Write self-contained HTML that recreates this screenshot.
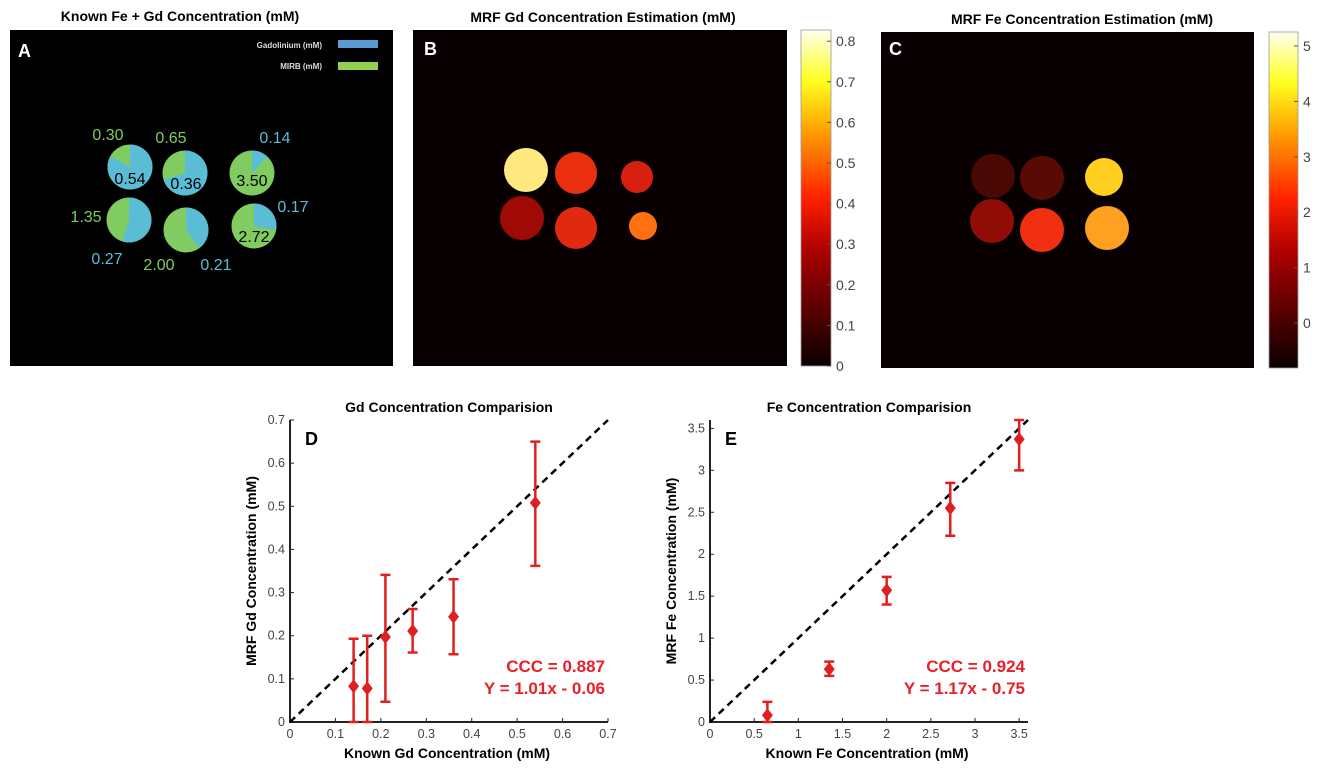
<!DOCTYPE html>
<html><head><meta charset="utf-8"><style>
body{margin:0;background:#fff;}
svg{display:block;font-family:"Liberation Sans",sans-serif;}
</style></head><body>
<svg id="root" width="1324" height="768" viewBox="0 0 1324 768">
<defs>
<linearGradient id="hot" x1="0" y1="1" x2="0" y2="0">
<stop offset="0" stop-color="#0a0000"/><stop offset="0.35" stop-color="#b00000"/><stop offset="0.5" stop-color="#ff2000"/><stop offset="0.7" stop-color="#ffa000"/><stop offset="0.85" stop-color="#ffff20"/><stop offset="1" stop-color="#fffff0"/>
</linearGradient>
</defs>
<text x="180" y="21" text-anchor="middle" font-size="14" font-weight="bold">Known Fe + Gd Concentration (mM)</text>
<rect x="10" y="30" width="383" height="336" fill="#000"/>
<text x="18" y="57" fill="#fff" font-size="18" font-weight="bold">A</text>
<text x="322" y="48" fill="#ddd" font-size="8" font-weight="bold" text-anchor="end">Gadolinium (mM)</text>
<rect x="338" y="40" width="40" height="8" fill="#5b9bd5"/>
<text x="322" y="69" fill="#ddd" font-size="8" font-weight="bold" text-anchor="end">MIRB (mM)</text>
<rect x="338" y="62" width="40" height="8" fill="#92d050"/>
<g id="pies"></g>
<text x="603" y="22" text-anchor="middle" font-size="14" font-weight="bold">MRF Gd Concentration Estimation (mM)</text>
<rect x="413" y="30" width="374" height="336" fill="#080000"/>
<text x="424" y="55" fill="#fff" font-size="18" font-weight="bold">B</text>
<g id="blobsB"></g>
<rect x="801" y="30" width="30" height="336" fill="url(#hot)" stroke="#999" stroke-width="0.8"/>
<g id="cbB"></g>
<text x="1082" y="24" text-anchor="middle" font-size="14" font-weight="bold">MRF Fe Concentration Estimation (mM)</text>
<rect x="881" y="32" width="373" height="336" fill="#080000"/>
<text x="889" y="55" fill="#fff" font-size="18" font-weight="bold">C</text>
<g id="blobsC"></g>
<rect x="1269" y="32" width="29" height="336" fill="url(#hot)" stroke="#999" stroke-width="0.8"/>
<g id="cbC"></g>
<g id="chartD"></g>
<g id="chartE"></g>
</svg>
<script>
const NS="http://www.w3.org/2000/svg";
function mk(parent,tag,attrs,text){const e=document.createElementNS(NS,tag);for(const k in attrs)e.setAttribute(k,attrs[k]);if(text!==undefined)e.textContent=text;parent.appendChild(e);return e;}

const pieGd=[0.54,0.36,0.14,0.27,0.21,0.17];
const pieFe=[0.30,0.65,3.50,1.35,2.00,2.72];
const pieGreenFrac=[0.17,0.30,0.88,0.45,0.60,0.72];
const pieCx=[130,185,252,129,186,254];
const pieCy=[167,173,173,220,230,226];
const pies=document.getElementById('pies');
function arcPath(cx,cy,r,a0,a1){const x0=cx+r*Math.sin(a0),y0=cy-r*Math.cos(a0),x1=cx+r*Math.sin(a1),y1=cy-r*Math.cos(a1);const large=(a1-a0)>Math.PI?1:0;return `M${cx},${cy} L${x0},${y0} A${r},${r} 0 ${large} 1 ${x1},${y1} Z`;}
for(let i=0;i<6;i++){
  const r=22.5,g=pieGreenFrac[i],b=1-g;
  const c=mk(pies,'circle',{cx:pieCx[i],cy:pieCy[i],r:r,fill:'#80cc60'});
  
  
  const p=mk(pies,'path',{d:arcPath(pieCx[i],pieCy[i],r,0,b*2*Math.PI),fill:'#5bbcd6'});
  
  
}
const lblText=['0.30','0.54','0.65','0.36','0.14','3.50','1.35','0.27','2.00','0.21','0.17','2.72'];
const lblX=[108,130,171,186,275,252,86,107,159,216,293,254];
const lblY=[140,184,143,189,143,186,222,264,270,270,212,242];
const lblC=['#80cc60','#000','#80cc60','#000','#5bbcd6','#000','#80cc60','#5bbcd6','#80cc60','#5bbcd6','#5bbcd6','#000'];
for(let i=0;i<lblText.length;i++){
  const t=mk(pies,'text',{x:lblX[i],y:lblY[i],'text-anchor':'middle','font-size':16,fill:lblC[i]},lblText[i]);
  
  
}

const bX=[526,576,637,522,576,643], bY=[170,173,177,218,228,226], bR=[22,21,16,22,21,14];
const bCol=['#ffe880','#e83010','#d82010','#a00a05','#e02a10','#ff7010'];
const cX=[993,1042,1104,992,1042,1107], cY=[176,178,177,221,230,228], cR=[22,22,19,22,22,22];
const cCol=['#4a0804','#5a0a05','#ffd020','#900c06','#f03010','#ffa020'];
function blobs(g,X,Y,R,C,name){for(let i=0;i<X.length;i++){const e=mk(document.getElementById(g),'circle',{cx:X[i],cy:Y[i],r:R[i],fill:C[i]});
  
  }}
blobs('blobsB',bX,bY,bR,bCol,'gd-phantom');
blobs('blobsC',cX,cY,cR,cCol,'fe-phantom');

const cbBTicks=['0','0.1','0.2','0.3','0.4','0.5','0.6','0.7','0.8'];
const cbCTicks=['0','1','2','3','4','5'];
function cbar(g,ticks,x,y0,step,name){const el=document.getElementById(g);ticks.forEach((t,i)=>{const y=y0-i*step;
  mk(el,'line',{x1:x-4,y1:y,x2:x,y2:y,stroke:'#555','stroke-width':1});
  const e=mk(el,'text',{x:x+5,y:y+5,'font-size':14,fill:'#444'},t);
  
  });}
cbar('cbB',cbBTicks,831,366,40.6,'colorbar-b-tick');
cbar('cbC',cbCTicks,1298,323,55.4,'colorbar-c-tick');

const dX=[0.14,0.17,0.21,0.27,0.36,0.54];
const dY=[0.083,0.078,0.197,0.211,0.244,0.508];
const dLo=[0,0,0.047,0.161,0.157,0.362];
const dHi=[0.193,0.200,0.341,0.262,0.331,0.650];
const dTicks=['0','0.1','0.2','0.3','0.4','0.5','0.6','0.7'];
const dTickVals=[0,0.1,0.2,0.3,0.4,0.5,0.6,0.7];
const eX=[0.65,1.35,2.0,2.72,3.5];
const eY=[0.08,0.63,1.57,2.55,3.37];
const eLo=[0,0.55,1.40,2.22,3.00];
const eHi=[0.24,0.72,1.73,2.85,3.60];
const eTicks=['0','0.5','1','1.5','2','2.5','3','3.5'];
const eTickVals=[0,0.5,1,1.5,2,2.5,3,3.5];

function chart(gid,o){
  const g=document.getElementById(gid);
  const sx=v=>o.x0+(v/o.xmax)*(o.x1-o.x0);
  const sy=v=>o.y0-(v/o.ymax)*(o.y0-o.y1);
  const t=mk(g,'text',{x:(o.x0+o.x1)/2,y:o.y1-8,'text-anchor':'middle','font-size':14,'font-weight':'bold'},o.title);
  
  
  const l=mk(g,'text',{x:o.x0+15,y:o.y1+25,'font-size':18,'font-weight':'bold'},o.letter);
  
  
  const ax=mk(g,'path',{d:`M${o.x0},${o.y1} L${o.x0},${o.y0} L${o.x1},${o.y0}`,fill:'none',stroke:'#222','stroke-width':2});
  
  
  o.ticks.forEach((lab,i)=>{const v=o.tickVals[i];
    mk(g,'line',{x1:sx(v),y1:o.y0,x2:sx(v),y2:o.y0-4,stroke:'#222'});
    mk(g,'line',{x1:o.x0,y1:sy(v),x2:o.x0+4,y2:sy(v),stroke:'#222'});
    const a=mk(g,'text',{x:sx(v),y:o.y0+16,'text-anchor':'middle','font-size':12.5,fill:'#444'},lab);
    
    
    const b=mk(g,'text',{x:o.x0-5,y:sy(v)+4,'text-anchor':'end','font-size':12.5,fill:'#444'},lab);
    
    
  });
  const xl=mk(g,'text',{x:(o.x0+o.x1)/2-2,y:o.y0+36,'text-anchor':'middle','font-size':14,'font-weight':'bold'},o.xlabel);
  
  
  const yl=mk(g,'text',{x:0,y:0,'text-anchor':'middle','font-size':14,'font-weight':'bold',transform:`translate(${o.x0-34},${(o.y0+o.y1)/2}) rotate(-90)`},o.ylabel);
  
  
  const dl=mk(g,'line',{x1:sx(0),y1:sy(0),x2:sx(o.dmax),y2:sy(o.dmax),stroke:'#000','stroke-width':2.5,'stroke-dasharray':'7,5'});
  
  
  o.X.forEach((xv,i)=>{const px=sx(xv);
    const e=mk(g,'path',{d:`M${px},${sy(o.Lo[i])} L${px},${sy(o.Hi[i])} M${px-5},${sy(o.Lo[i])} L${px+5},${sy(o.Lo[i])} M${px-5},${sy(o.Hi[i])} L${px+5},${sy(o.Hi[i])}`,stroke:'#e02020','stroke-width':2.5,fill:'none'});
    
    
    const py=sy(o.Y[i]);
    const m=mk(g,'path',{d:`M${px},${py-7} L${px+5.5},${py} L${px},${py+7} L${px-5.5},${py} Z`,fill:'#e02020'});
    
    
  });
  const c1=mk(g,'text',{x:o.x1-3,y:o.y0-50,'text-anchor':'end','font-size':17,'font-weight':'bold',fill:'#e8202a'},o.ccc);
  
  
  const c2=mk(g,'text',{x:o.x1-3,y:o.y0-28,'text-anchor':'end','font-size':17,'font-weight':'bold',fill:'#e8202a'},o.fit);
  
  
}
chart('chartD',{x0:290,x1:608,y0:722,y1:420,xmax:0.7,ymax:0.7,dmax:0.7,title:'Gd Concentration Comparision',letter:'D',
  xlabel:'Known Gd Concentration (mM)',ylabel:'MRF Gd Concentration (mM)',ticks:dTicks,tickVals:dTickVals,
  X:dX,Y:dY,Lo:dLo,Hi:dHi,ccc:'CCC = 0.887',fit:'Y = 1.01x - 0.06'});
chart('chartE',{x0:710,x1:1028,y0:722,y1:420,xmax:3.6,ymax:3.6,dmax:3.6,title:'Fe Concentration Comparision',letter:'E',
  xlabel:'Known Fe Concentration (mM)',ylabel:'MRF Fe Concentration (mM)',ticks:eTicks,tickVals:eTickVals,
  X:eX,Y:eY,Lo:eLo,Hi:eHi,ccc:'CCC = 0.924',fit:'Y = 1.17x - 0.75'});
</script>
</body></html>
